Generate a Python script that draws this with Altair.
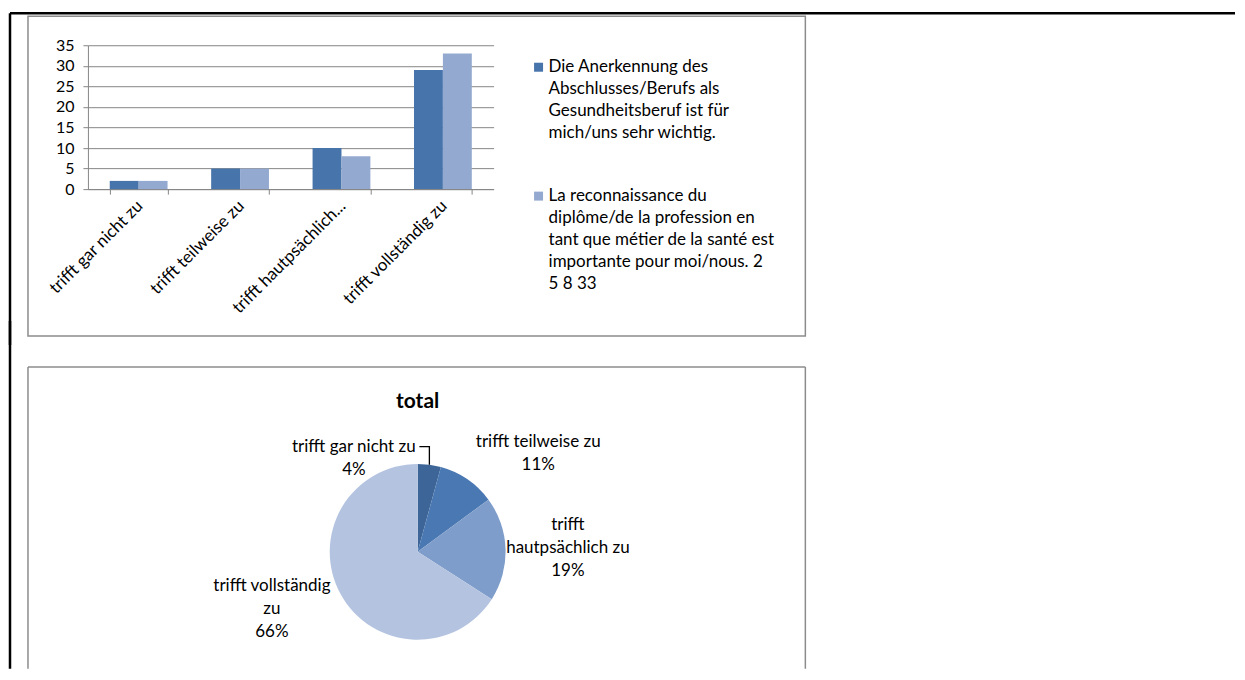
import json
import math
import altair as alt
import pandas as pd

# ---------------- data ----------------
categories = ["trifft gar nicht zu", "trifft teilweise zu",
              "trifft hautpsächlich zu", "trifft vollständig zu"]
tick_labels = ["trifft gar nicht zu", "trifft teilweise zu",
               "trifft hautpsächlich...", "trifft vollständig zu"]
series_names = [
    "Die Anerkennung des Abschlusses/Berufs als Gesundheitsberuf ist für mich/uns sehr wichtig.",
    "La reconnaissance du diplôme/de la profession en tant que métier de la santé est importante pour moi/nous. 2 5 8 33",
]
legend_text = [
    "Die Anerkennung des\nAbschlusses/Berufs als\nGesundheitsberuf ist für\nmich/uns sehr wichtig.",
    "La reconnaissance du\ndiplôme/de la profession en\ntant que métier de la santé est\nimportante pour moi/nous. 2\n5 8 33",
]
values_de = [2, 5, 10, 29]
values_fr = [2, 5, 8, 33]
y_ticks = [0, 5, 10, 15, 20, 25, 30, 35]

pie_title = "total"
pie_values = [4, 10, 18, 62]
pie_label_text = ["trifft gar nicht zu", "trifft teilweise zu",
                  "trifft\nhautpsächlich zu", "trifft vollständig\nzu"]

bar_colors = ["#4774AA", "#93A9D0"]
pie_colors = ["#3D6598", "#4A78B2", "#7F9DCA", "#B4C4E0"]

FONT = "Lato"
GRAY = "#868686"
FRAME = "#8c8c8c"
FS = 17

one = pd.DataFrame({"k": [0]})

# ---------------- bar chart panel ----------------
W1, H1 = 406, 144
bar_df = pd.DataFrame(
    [{"category": c, "series": series_names[0], "value": a} for c, a in zip(categories, values_de)]
    + [{"category": c, "series": series_names[1], "value": b} for c, b in zip(categories, values_fr)]
)

label_expr = " : ".join(
    f"datum.label === {json.dumps(c, ensure_ascii=False)} ? {json.dumps(t, ensure_ascii=False)}"
    for c, t in zip(categories, tick_labels)
) + " : datum.label"

color_bar = alt.Color("series:N", scale=alt.Scale(domain=series_names, range=bar_colors), legend=None)

bars = alt.Chart(bar_df).mark_bar().encode(
    x=alt.X("category:N", sort=categories, title=None,
            scale=alt.Scale(paddingInner=0.43, paddingOuter=0.215),
            axis=alt.Axis(labelAngle=-45, labelAlign="right", labelBaseline="middle",
                          tickBand="extent", labelExpr=label_expr, domainColor=GRAY,
                          tickColor=GRAY, tickSize=5, labelPadding=9, labelOffset=1,
                          labelFontSize=17, labelColor="black", labelLimit=400, grid=False)),
    xOffset=alt.XOffset("series:N", sort=series_names,
                        scale=alt.Scale(paddingInner=0, paddingOuter=0)),
    y=alt.Y("value:Q", title=None, scale=alt.Scale(domain=[0, 35], nice=False),
            axis=alt.Axis(values=y_ticks, grid=True, gridColor=GRAY, domainColor=GRAY,
                          tickColor=GRAY, tickSize=5, labelPadding=9, labelFontSize=16,
                          labelColor="black")),
    color=color_bar,
)

leg_df = pd.DataFrame({"series": series_names, "label": legend_text})
leg_y = alt.Y("series:N", sort=series_names, axis=None,
              scale=alt.Scale(domain=series_names, range=[22, 151], padding=0))
leg_sq = alt.Chart(leg_df).mark_square(size=81, opacity=1).encode(
    x=alt.value(451), y=leg_y, color=color_bar)
leg_tx = alt.Chart(leg_df).mark_text(
    align="left", baseline="middle", lineBreak="\n", lineHeight=22,
    fontSize=FS, color="black").encode(x=alt.value(461), y=leg_y, text="label:N")

frame1 = alt.Chart(one).mark_rect(fillOpacity=0, stroke=FRAME, strokeWidth=1.5).encode(
    x=alt.value(-60), x2=alt.value(718), y=alt.value(-29), y2=alt.value(291))
black_top = alt.Chart(one).mark_rule(color="black", strokeWidth=2.5).encode(
    x=alt.value(-78), x2=alt.value(1148), y=alt.value(-32))
black_left1 = alt.Chart(one).mark_rule(color="black", strokeWidth=2.5).encode(
    x=alt.value(-78), y=alt.value(-32), y2=alt.value(300))

top_panel = alt.layer(frame1, black_top, black_left1, bars, leg_sq, leg_tx).resolve_scale(
    y="independent").properties(width=W1, height=H1)

# ---------------- pie chart panel ----------------
# the pie panel shares the left origin of the bar panel; its centre sits at W2/2, H2/2
W2, H2 = 660, 222
GAP = 252  # vertical distance between the two plot areas (flush layout)
R = 88
LH = 23
CHARW = 6.8
total = sum(pie_values)
rows, lead = [], []
cum = 0
for i, (c, v, t) in enumerate(zip(categories, pie_values, pie_label_text)):
    f = (cum + v / 2) / total
    cum += v
    a = 2 * math.pi * f
    s, co = math.sin(a), math.cos(a)
    pct = f"{round(100 * v / total)}%"
    lines = t.split("\n") + [pct]
    n = len(lines)
    hw = max(len(x) for x in lines) * CHARW / 2
    if v / total < 0.05:
        ex, ey = R * s, -R * co
        first_y = ey - 18
        cx = ex - 11 - hw
        cy = first_y + (n - 1) * LH / 2
        lead = [(ex - 10, first_y), (ex, first_y), (ex, ey)]
    else:
        ax, ay = (R + 4) * s, -(R + 4) * co
        cx = ax + math.copysign(hw + 4, s)
        cy = ay - co * 27
    rows.append({"category": c, "value": v, "idx": i,
                 "label": "\n".join(lines),
                 "lx": W2 / 2 + cx, "ly": H2 / 2 + cy - (n - 1) * LH / 2})
pie_df = pd.DataFrame(rows)
lead_df = pd.DataFrame([{"seq": k, "px": W2 / 2 + p[0], "py": H2 / 2 + p[1]} for k, p in enumerate(lead)])

arc = alt.Chart(pie_df).mark_arc(outerRadius=R).encode(
    theta=alt.Theta("value:Q", stack=True),
    color=alt.Color("category:N", scale=alt.Scale(domain=categories, range=pie_colors), legend=None),
    order=alt.Order("idx:Q"),
)
pie_labels = alt.Chart(pie_df).mark_text(
    align="center", baseline="middle", lineBreak="\n", lineHeight=LH,
    fontSize=FS, color="black").encode(
    x=alt.X("lx:Q", scale=None, axis=None),
    y=alt.Y("ly:Q", scale=None, axis=None),
    text="label:N")
leader = alt.Chart(lead_df).mark_line(color="black", strokeWidth=1.3).encode(
    x=alt.X("px:Q", scale=None, axis=None),
    y=alt.Y("py:Q", scale=None, axis=None),
    order="seq:Q")
title_mark = alt.Chart(pd.DataFrame({"t": [pie_title]})).mark_text(
    fontSize=21, fontWeight="bold", color="black", baseline="middle").encode(
    x=alt.value(W2 / 2), y=alt.value(-39), text="t:N")

frame_top2 = alt.Chart(one).mark_rule(color=FRAME, strokeWidth=1.5).encode(
    x=alt.value(-60), x2=alt.value(718), y=alt.value(-74))
frame_l2 = alt.Chart(one).mark_rule(color=FRAME, strokeWidth=1.5).encode(
    x=alt.value(-60), y=alt.value(-74), y2=alt.value(228))
frame_r2 = alt.Chart(one).mark_rule(color=FRAME, strokeWidth=1.5).encode(
    x=alt.value(718), y=alt.value(-74), y2=alt.value(228))
black_left2 = alt.Chart(one).mark_rule(color="black", strokeWidth=2.5).encode(
    x=alt.value(-78), y=alt.value(-120), y2=alt.value(228))

pie_panel = alt.layer(frame_top2, frame_l2, frame_r2, black_left2, arc, leader,
                      pie_labels, title_mark).properties(width=W2, height=H2)

chart = alt.vconcat(top_panel, pie_panel, spacing=GAP, bounds="flush").resolve_scale(
    color="independent"
).properties(
    padding={"left": 0, "top": 3, "right": 0, "bottom": 0}
).configure(font=FONT).configure_view(stroke=None).configure_axis(labelFont=FONT)

chart.save("out.html", embed_options={"renderer": "svg", "actions": False})
